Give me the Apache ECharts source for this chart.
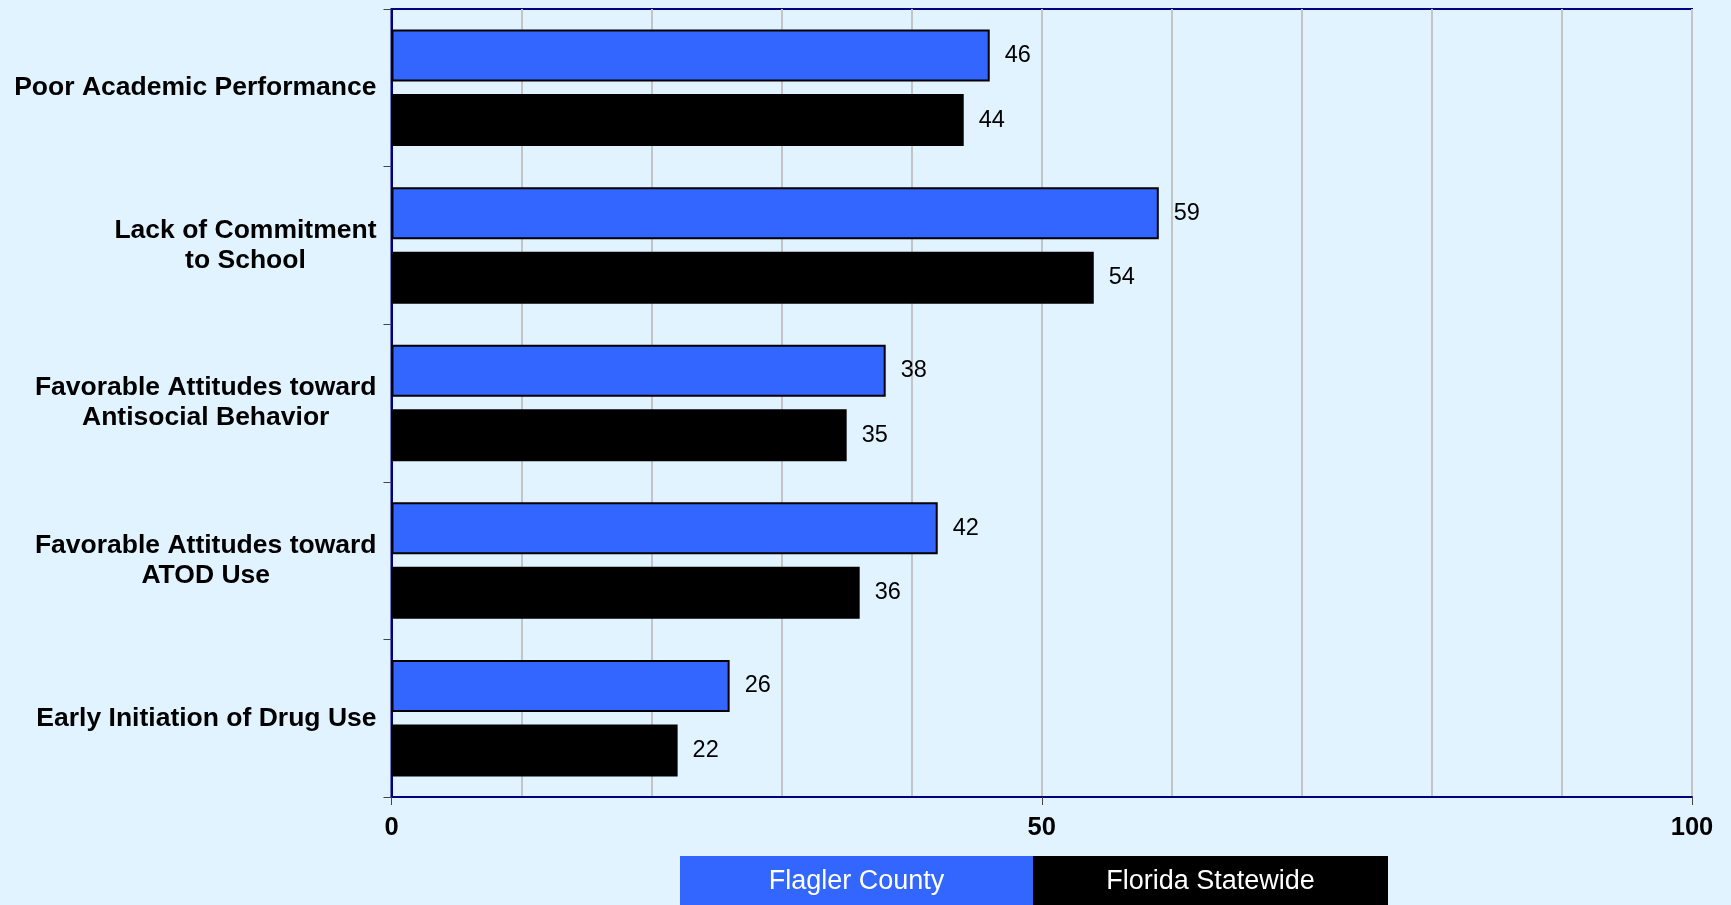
<!DOCTYPE html>
<html>
<head>
<meta charset="utf-8">
<script src="https://cdn.jsdelivr.net/npm/echarts@6/dist/echarts.min.js"></script>
<style>
html,body{margin:0;padding:0;background:#E1F3FF;}
#chart{width:1731px;height:905px;}
</style>
</head>
<body>
<div id="chart"></div>
<script>
var categories = [
  "Poor Academic Performance",
  "Lack of Commitment\nto School",
  "Favorable Attitudes toward\nAntisocial Behavior",
  "Favorable Attitudes toward\nATOD Use",
  "Early Initiation of Drug Use"
];
var seriesNames = ["Flagler County", "Florida Statewide"];
var flaglerValues = [46, 59, 38, 42, 26];
var floridaValues = [44, 54, 35, 36, 22];
var axisMin = 0, axisMax = 100;

var chart = echarts.init(document.getElementById('chart'));
var FONT = "'Liberation Sans', Arial, sans-serif";
function legendRich(bg, w) {
  return {
    b: {
      fontFamily: FONT, fontSize: 27, color: '#fff',
      width: w, height: 52, lineHeight: 52, align: 'center', backgroundColor: bg
    }
  };
}
chart.setOption({
  backgroundColor: '#E1F3FF',
  animation: false,
  grid: {
    left: 391.5, right: 39, top: 9, bottom: 108,
    show: true, borderColor: '#000080', borderWidth: 2, backgroundColor: 'transparent'
  },
  legend: [
    {
      data: [seriesNames[0]], left: 674, top: 856, padding: 0,
      itemWidth: 0, itemHeight: 0, itemGap: 0, selectedMode: false,
      formatter: function (n) { return '{b|' + n + '}'; },
      textStyle: { rich: legendRich('#3366FF', 353) }
    },
    {
      data: [seriesNames[1]], left: 1027, top: 856, padding: 0,
      itemWidth: 0, itemHeight: 0, itemGap: 0, selectedMode: false,
      formatter: function (n) { return '{b|' + n + '}'; },
      textStyle: { rich: legendRich('#000000', 355) }
    }
  ],
  xAxis: [
    {
      type: 'value', min: axisMin, max: axisMax, interval: 10, position: 'bottom',
      axisLine: { show: true, lineStyle: { color: '#000080', width: 2 } },
      axisTick: { show: false },
      axisLabel: { show: false },
      splitLine: { show: true, lineStyle: { color: '#C4C4C4', width: 2 } }
    },
    {
      type: 'value', min: axisMin, max: axisMax, interval: 50, position: 'bottom',
      axisLine: { show: false },
      axisTick: { show: true, length: 8, lineStyle: { color: '#444', width: 1 } },
      axisLabel: { show: true, margin: 18, color: '#000', fontWeight: 'bold', fontSize: 25.5,
        fontFamily: FONT },
      splitLine: { show: false }
    }
  ],
  yAxis: {
    type: 'category', data: categories, inverse: true,
    axisLine: { show: true, lineStyle: { color: '#000080', width: 2 } },
    axisTick: { show: true, length: 8, lineStyle: { color: '#444', width: 1 } },
    axisLabel: {
      margin: 15, color: '#000', fontWeight: 'bold', fontSize: 26.5, lineHeight: 30,
      fontFamily: FONT,
      formatter: function (v) {
        return v.split('\n').map(function (l) { return '{c|' + l + '}'; }).join('\n');
      },
      rich: { c: { align: 'center', fontWeight: 'bold', fontSize: 26.5, lineHeight: 30, color: '#000',
        fontFamily: FONT } }
    },
    splitLine: { show: false }
  },
  series: [
    {
      name: seriesNames[0], type: 'bar', data: flaglerValues, xAxisIndex: 0,
      barWidth: 52, barGap: '24%',
      itemStyle: { color: '#3366FF', borderColor: '#000', borderWidth: 2 },
      label: { show: true, position: 'right', distance: 15, color: '#000', fontSize: 23.5,
        fontFamily: FONT }
    },
    {
      name: seriesNames[1], type: 'bar', data: floridaValues, xAxisIndex: 0,
      barWidth: 52, barGap: '24%',
      itemStyle: { color: '#000000', borderColor: '#000', borderWidth: 2 },
      label: { show: true, position: 'right', distance: 15, color: '#000', fontSize: 23.5,
        fontFamily: FONT }
    }
  ]
});
</script>
</body>
</html>
